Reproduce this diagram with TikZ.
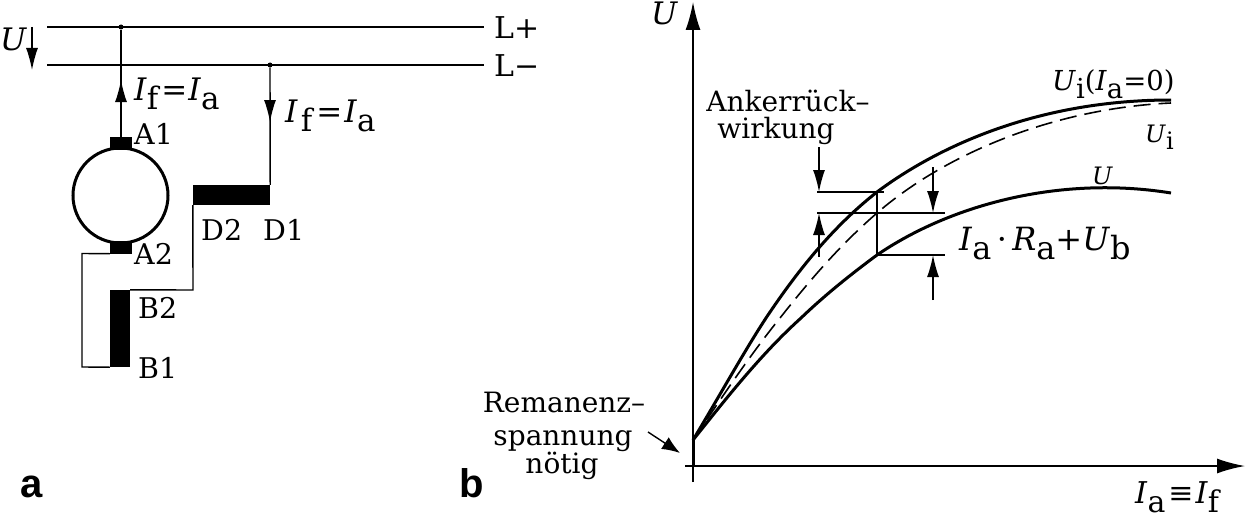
\documentclass[tikz,border=0pt]{standalone}
\usepackage{fontspec}
\setmainfont{DejaVu Serif}
\newfontfamily\panelfont{Liberation Sans}[BoldFont={Liberation Sans Bold}]
\usetikzlibrary{arrows.meta}
\newcommand{\lsub}[1]{\raisebox{-0.3em}{\upshape #1}}
\newcommand{\ital}[1]{\textit{#1}}
\tikzset{
  x=1pt,y=-1pt,
  wire/.style={line width=1.4pt},
  curve/.style={line width=3pt,line join=round},
  dashcurve/.style={line width=1.6pt,dash pattern=on 17pt off 8pt},
  helper/.style={line width=1.4pt},
  tipa/.style={-{Latex[length=22pt,width=12pt]},line width=1.4pt},
  tipb/.style={-{Latex[length=28pt,width=15pt]},line width=1.8pt},
  tipc/.style={-{Latex[length=18pt,width=14pt]},line width=1.4pt},
  coil/.style={fill=black,draw=none,inner sep=0pt},
  dot/.style={circle,fill=black,inner sep=0pt,minimum size=5pt},
  armature/.style={circle,draw,line width=3pt,inner sep=0pt,minimum size=95pt},
  lbl/.style={inner sep=0pt,anchor=base west,font=\fontsize{28.5}{28.5}\selectfont},
  biglbl/.style={inner sep=0pt,anchor=base west,font=\fontsize{31}{31}\selectfont},
  txt/.style={inner sep=0pt,anchor=base,font=\fontsize{28}{28}\selectfont},
  panel/.style={inner sep=0pt,anchor=base west,font=\panelfont\bfseries\fontsize{40}{40}\selectfont},
}
\begin{document}
\begin{tikzpicture}
\useasboundingbox (0,0) rectangle (1249,519);
\fill[white] (0,0) rectangle (1249,519);
% ---- a: circuit
\coordinate (lpS) at (47,27); \coordinate (lpE) at (484,27);
\coordinate (lmS) at (47,65); \coordinate (lmE) at (484,65);
\draw[wire] (lpS) -- (lpE);
\draw[wire] (lmS) -- (lmE);
\node[dot] (j1) at (121,27) {};
\node[dot] (j2) at (270,65) {};
\node[armature] (M) at (120.5,195.5) {};
\node[coil,minimum width=22pt,minimum height=13pt] (A1b) at (121,143.5) {};
\node[coil,minimum width=22pt,minimum height=13pt] (A2b) at (121,247) {};
\node[coil,minimum width=20pt,minimum height=77pt] (Bc) at (120,328.5) {};
\node[coil,minimum width=77pt,minimum height=20pt] (Dc) at (231.5,195) {};
\coordinate (w1) at (82,253.5);
\coordinate (w2) at (82,367);
\coordinate (w3) at (193,290);
\draw[wire] (j1) -- (A1b.north);
\draw[wire] (j2) -- (Dc.north east);
\draw[wire,line join=miter] (A2b.south west) -- (w1) -- (w2) -- (Bc.south west);
\draw[wire,line join=miter] (Bc.north east) -- (w3) -- (Dc.south west);
\coordinate (ua1) at (121,102); \coordinate (ua2) at (121,80);
\draw[tipa] (ua1) -- (ua2);
\coordinate (da1) at (270,100); \coordinate (da2) at (270,122);
\draw[tipa] (da1) -- (da2);
\coordinate (us) at (32,27); \coordinate (ue) at (32,70);
\draw[tipa] (us) -- (ue);
\node[biglbl] (tU) at (0,51) {\ital{U}};
\node[lbl,font=\fontsize{30}{30}\selectfont] (tLp) at (494,38) {L+};
\node[lbl,font=\fontsize{30}{30}\selectfont] (tLm) at (494,76) {L−};
\node[biglbl] (tI1) at (134,100) {\ital{I}\lsub{f}\kern3pt=\kern1pt\ital{I}\lsub{a}};
\node[biglbl] (tI2) at (285,122) {\ital{I}\kern3pt\lsub{f}\kern4pt=\kern2pt\ital{I}\lsub{a}};
\node[lbl] (tA1) at (134,144) {A1};
\node[lbl] (tA2) at (134,264) {A2};
\node[lbl] (tB2) at (138,318) {B2};
\node[lbl] (tB1) at (138,378) {B1};
\node[lbl] (tD2) at (201,240) {D2};
\node[lbl] (tD1) at (263,240) {D1};
\node[panel] (pa) at (20,497) {a};
\node[panel] (pb) at (459,497) {b};
% ---- b: characteristic
\coordinate (xS) at (685,466); \coordinate (xE) at (1245,466);
\coordinate (yS) at (693,482); \coordinate (yE) at (693,2);
\draw[tipb] (xS) -- (xE);
\draw[tipb] (yS) -- (yE);
\coordinate (rem) at (693,440);
\coordinate (ax0) at (693,466);
\draw[line width=3pt] (ax0) -- (rem);
\draw[curve] (rem) .. controls (720,395) and (745,350) .. (766,318) .. controls (800,267) and (835,225) .. (877,192) .. controls (940,145) and (1040,100) .. (1171,100);
\draw[dashcurve] (rem) .. controls (720,400) and (750,355) .. (780,318) .. controls (810,280) and (840,245) .. (877,213) .. controls (950,150) and (1060,108) .. (1171,103);
\draw[curve] (rem) .. controls (725,400) and (760,355) .. (801,318) .. controls (825,295) and (850,275) .. (877,255) .. controls (950,205) and (1060,175) .. (1171,193);
% measuring lines
\coordinate (h1a) at (817,192); \coordinate (h1b) at (884,192);
\coordinate (h2a) at (817,213); \coordinate (h2b) at (945,213);
\coordinate (h3a) at (877,255); \coordinate (h3b) at (945,255);
\draw[helper] (h1a) -- (h1b);
\draw[helper] (h2a) -- (h2b);
\draw[helper] (h3a) -- (h3b);
\draw[helper] (h1b -| h3a) -- (h3a);
\coordinate (a1s) at (819,147); \coordinate (a1e) at (819,192);
\coordinate (a2s) at (819,257); \coordinate (a2e) at (819,213);
\coordinate (a3s) at (933,167); \coordinate (a3e) at (933,213);
\coordinate (a4s) at (933,300); \coordinate (a4e) at (933,255);
\draw[tipa] (a1s) -- (a1e);
\draw[tipa] (a2s) -- (a2e);
\draw[tipa] (a3s) -- (a3e);
\draw[tipa] (a4s) -- (a4e);
\coordinate (ras) at (648,432); \coordinate (rae) at (680,453);
\draw[tipc] (ras) -- (rae);
\node[biglbl] (tUy) at (651,25) {\ital{U}};
\node[biglbl,font=\fontsize{30}{30}\selectfont] (tIx) at (1135,503) {\ital{I}\lsub{a}\kern3pt≡\kern2pt\ital{I}\lsub{f}};
\node[txt] (tAnk1) at (788,111) {Ankerrück–};
\node[txt] (tAnk2) at (776,138) {wirkung};
\node[txt] (tRem1) at (564,412) {Remanenz–};
\node[txt] (tRem2) at (563,445) {spannung};
\node[txt] (tRem3) at (562,473) {nötig};
\node[lbl,font=\fontsize{27.5}{27.5}\selectfont] (tUi0) at (1052,90) {\ital{U}\lsub{i}(\ital{I}\lsub{a}=0)};
\node[lbl,font=\fontsize{24}{24}\selectfont] (tUi) at (1145,142) {\ital{U}\lsub{i}};
\node[lbl,font=\fontsize{24}{24}\selectfont] (tU2) at (1092,184) {\ital{U}};
\node[biglbl,font=\fontsize{32}{32}\selectfont] (tIR) at (959,250) {\ital{I}\lsub{a}\,·\,\ital{R}\lsub{a}+\ital{U}\lsub{b}};
\end{tikzpicture}
\end{document}
